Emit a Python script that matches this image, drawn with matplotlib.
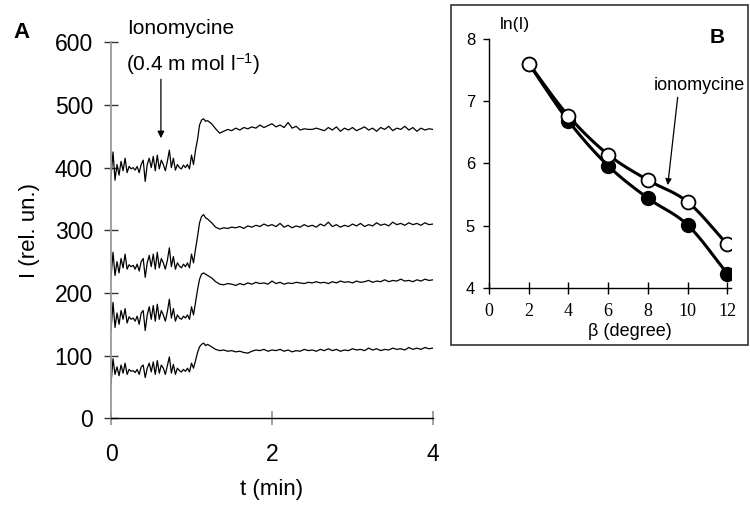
import numpy as np
import matplotlib
matplotlib.use("Agg")
import matplotlib.pyplot as plt
from matplotlib.patches import Rectangle

plt.rcParams["font.family"] = ["Liberation Sans", "DejaVu Sans"]
plt.rcParams["mathtext.fontset"] = "custom"
plt.rcParams["mathtext.rm"] = "Liberation Sans"
plt.rcParams["mathtext.it"] = "Liberation Sans:italic"

W, H = 750, 507

# ---- Panel A: intensity traces (rel. un.) vs time (min) ----
t_pre = np.round(np.arange(0, 1.05 + 1e-9, 0.025), 3)      # before ionomycine response
t_rise = [1.075, 1.1, 1.125, 1.15, 1.175, 1.2]
t_post = np.round(np.arange(1.25, 4.0 + 1e-9, 0.05), 3)     # plateau

trace1_pre = [385, 425, 380, 405, 388, 410, 395, 415,
              392, 402, 398, 400, 396, 402, 392, 405,
              412, 378, 405, 415, 400, 418, 395, 420,
              398, 412, 405, 395, 410, 428, 400, 415,
              396, 405, 400, 398, 404, 400, 405, 398,
              420, 405, 428]
trace1_rise = [445, 468, 476, 478, 474, 475]
trace1_post = [470, 462, 455, 458, 461, 459, 463, 460,
               464, 462, 465, 463, 468, 464, 467, 470,
               465, 468, 464, 472, 463, 466, 460, 462,
               461, 461, 463, 461, 459, 464, 460, 465,
               458, 463, 460, 464, 459, 462, 465, 460,
               463, 458, 464, 461, 466, 459, 463, 461,
               466, 460, 464, 458, 463, 460, 462, 461]

trace2_pre = [225, 265, 228, 250, 232, 255, 240, 262,
              238, 245, 242, 244, 238, 246, 235, 250,
              255, 225, 248, 260, 242, 262, 238, 265,
              240, 255, 248, 238, 252, 272, 242, 258,
              238, 248, 243, 240, 246, 242, 248, 240,
              262, 248, 270]
trace2_rise = [290, 312, 322, 325, 320, 318]
trace2_post = [312, 305, 302, 304, 303, 305, 304, 306,
               303, 307, 305, 308, 306, 310, 307, 309,
               306, 311, 305, 308, 304, 307, 305, 309,
               306, 308, 305, 310, 307, 313, 306, 309,
               305, 308, 306, 310, 307, 311, 306, 309,
               307, 312, 308, 310, 307, 313, 309, 311,
               308, 312, 309, 311, 308, 312, 309, 310]

trace3_pre = [140, 185, 145, 168, 150, 172, 158, 175,
              152, 162, 158, 160, 155, 163, 150, 168,
              172, 140, 165, 178, 158, 180, 155, 182,
              158, 172, 165, 155, 170, 190, 160, 175,
              155, 165, 160, 158, 163, 160, 165, 158,
              178, 165, 185]
trace3_rise = [205, 222, 230, 232, 230, 228]
trace3_post = [224, 218, 214, 213, 215, 214, 212, 215,
               213, 216, 214, 217, 215, 216, 214, 219,
               215, 217, 214, 216, 215, 217, 216, 215,
               217, 216, 218, 216, 217, 215, 218, 216,
               219, 217, 218, 216, 219, 217, 218, 220,
               217, 219, 218, 221, 218, 220, 219, 222,
               219, 220, 218, 221, 219, 222, 220, 221]

trace4_pre = [55, 95, 70, 82, 68, 85, 72, 88,
              70, 78, 75, 76, 73, 78, 70, 82,
              85, 65, 80, 88, 74, 90, 70, 92,
              72, 85, 80, 70, 84, 98, 72, 86,
              70, 80, 76, 74, 78, 75, 80, 74,
              88, 80, 92]
trace4_rise = [105, 114, 118, 120, 116, 118]
trace4_post = [114, 110, 108, 109, 107, 108, 106, 107,
               105, 104, 107, 109, 108, 110, 107, 109,
               108, 110, 107, 109, 106, 108, 107, 110,
               108, 109, 107, 110, 108, 111, 108, 110,
               107, 109, 108, 111, 109, 110, 108, 112,
               109, 111, 108, 110, 109, 112, 110, 111,
               109, 113, 110, 112, 110, 113, 111, 112]

# ---- Panel B: ln(I) vs beta ----
beta = [2, 4, 6, 8, 10, 12]
ln_control = [7.60, 6.68, 5.96, 5.44, 5.01, 4.23]
ln_iono = [7.60, 6.76, 6.14, 5.73, 5.38, 4.70]


def fx(px):
    return px / W


def fy(py):
    return 1 - py / H


def smooth(x, y, n=20):
    """Catmull-Rom curve through the points (like a spreadsheet 'smoothed line')."""
    x = np.asarray(x, float)
    y = np.asarray(y, float)
    px = np.r_[2 * x[0] - x[1], x, 2 * x[-1] - x[-2]]
    py = np.r_[2 * y[0] - y[1], y, 2 * y[-1] - y[-2]]
    s = np.linspace(0, 1, n)
    xs, ys = [], []
    for i in range(1, len(px) - 2):
        for p, out in ((px, xs), (py, ys)):
            p0, p1, p2, p3 = p[i - 1], p[i], p[i + 1], p[i + 2]
            out.append(0.5 * (2 * p1 + (-p0 + p2) * s
                              + (2 * p0 - 5 * p1 + 4 * p2 - p3) * s ** 2
                              + (-p0 + 3 * p1 - 3 * p2 + p3) * s ** 3))
    return np.concatenate(xs), np.concatenate(ys)


fig = plt.figure(figsize=(W / 100, H / 100), dpi=100, facecolor="white")

# ================= Panel A =================
ax = fig.add_axes([fx(111), fy(418.3), fx(433) - fx(111), fy(42.3) - fy(418.3)])
t_all = np.r_[t_pre, t_rise, t_post]
for pre, rise, post in [(trace1_pre, trace1_rise, trace1_post),
                        (trace2_pre, trace2_rise, trace2_post),
                        (trace3_pre, trace3_rise, trace3_post),
                        (trace4_pre, trace4_rise, trace4_post)]:
    ax.plot(t_all, np.r_[pre, rise, post], color="black", lw=0.9)

ax.set_xlim(0, 4)
ax.set_ylim(0, 600)
ax.set_xticks([0, 2, 4])
ax.set_yticks(range(0, 601, 100))
for side in ["top", "right"]:
    ax.spines[side].set_visible(False)
ax.spines["left"].set_color("#9a9a9a")
ax.spines["left"].set_linewidth(1.3)
ax.spines["bottom"].set_color("black")
ax.spines["bottom"].set_linewidth(1.0)
ax.tick_params(axis="y", direction="inout", length=10, width=1.0, color="#333333",
               labelsize=16.5, pad=8)
ax.tick_params(axis="x", direction="inout", length=10, width=1.3, color="#9a9a9a",
               labelsize=16.5, pad=13)

ax.annotate("", xy=(0.62, 447), xytext=(0.62, 541),
            arrowprops=dict(arrowstyle="-|>", color="black", lw=0.9,
                            mutation_scale=10, shrinkA=0, shrinkB=0))

fig.text(fx(127), fy(29), "Ionomycine", fontsize=15, ha="left", va="center")
fig.text(fx(126), fy(64), r"(0.4 m mol l$^{-1}$)", fontsize=15, ha="left", va="center")
fig.text(fx(21), fy(33), "A", fontsize=16, fontweight="bold", ha="center", va="center")
fig.text(fx(30), fy(231), "I (rel. un.)", fontsize=16, rotation=90, ha="center", va="center")
fig.text(fx(272), fy(490), "t (min)", fontsize=16, ha="center", va="center")

# ================= Panel B =================
fig.add_artist(Rectangle((fx(451), fy(345)), fx(748) - fx(451), fy(5) - fy(345),
                         transform=fig.transFigure, fill=False,
                         edgecolor="#333333", lw=1.2))

axb = fig.add_axes([fx(489), fy(287.9), fx(731.3) - fx(489), fy(38.7) - fy(287.9)])
xc, yc = smooth(beta, ln_control)
xi, yi = smooth(beta, ln_iono)
axb.plot(xc, yc, color="black", lw=2.2, zorder=2)
axb.plot(xi, yi, color="black", lw=2.2, zorder=2)
axb.plot(beta, ln_control, "o", color="black", ms=10, zorder=3)
axb.plot(beta, ln_iono, "o", mfc="white", mec="black", mew=1.3, ms=10, zorder=4)

axb.set_xlim(0, 12.2)
axb.set_ylim(4, 8)
axb.set_xticks(range(0, 13, 2))
axb.set_yticks([4, 5, 6, 7, 8])
for side in ["top", "right"]:
    axb.spines[side].set_visible(False)
for side in ["left", "bottom"]:
    axb.spines[side].set_linewidth(1.0)
axb.tick_params(axis="x", direction="inout", length=8, width=1.0, labelsize=13, pad=7)
axb.tick_params(axis="y", direction="out", length=4, width=1.0, labelsize=12, pad=6)
for lab in axb.get_xticklabels():
    lab.set_fontfamily("Liberation Serif")
axb.patch.set_alpha(0)

axb.annotate("", xy=(9.0, 5.65), xytext=(9.5, 7.06),
             arrowprops=dict(arrowstyle="-|>", color="black", lw=0.9,
                             mutation_scale=9, shrinkA=0, shrinkB=0))

fig.text(fx(515), fy(25), "ln(I)", fontsize=12.5, ha="center", va="center")
fig.text(fx(717), fy(38), "B", fontsize=15, fontweight="bold", ha="center", va="center")
fig.text(fx(654), fy(86), "ionomycine", fontsize=13, ha="left", va="center")
fig.text(fx(630), fy(331), "\u03b2 (degree)", fontsize=13, ha="center", va="center")

fig.savefig("out.png", dpi=100, facecolor="white")
